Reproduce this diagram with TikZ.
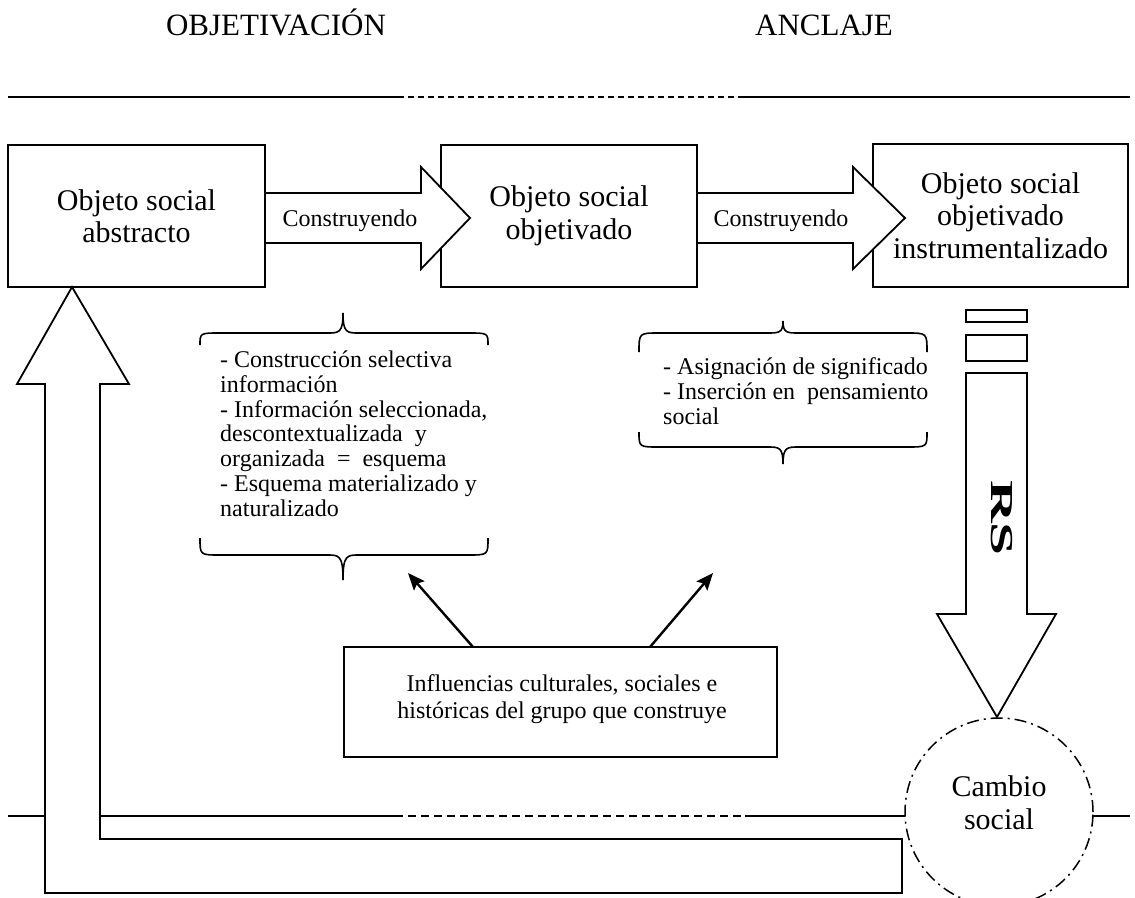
\documentclass[tikz,border=0pt]{standalone}
\usepackage{fontspec}
\setmainfont{Liberation Serif}
\usetikzlibrary{arrows.meta,calc}

\begin{document}
\begin{tikzpicture}[x=1pt,y=-1pt,
  objbox/.style={draw, line width=1.8, fill=white, inner sep=0, align=center,
    font=\fontsize{30}{32.5}\selectfont},
  infbox/.style={draw, line width=1.8, fill=white, inner sep=0, align=center,
    font=\fontsize{24}{27}\selectfont},
  blockarrow/.style={draw, line width=1.8, fill=white, line join=miter},
  arrowlabel/.style={font=\fontsize{24}{24}\selectfont, inner sep=0},
  heading/.style={font=\fontsize{31}{31}\selectfont, inner sep=0, anchor=base},
  rule/.style={line width=1.6},
  bracetext/.style={align=left, inner sep=0, anchor=north west},
  bracepath/.style={line width=1.6},
  infarrow/.style={line width=2.4, -{Stealth[length=17pt, width=14pt, inset=3pt]}},
  changecircle/.style={draw, circle, line width=1.5, inner sep=0, minimum size=188,
    dash pattern=on 12pt off 5pt on 2pt off 5pt},
]
\useasboundingbox (0,0) rectangle (1135,897);

% column headings
\node[heading] (h1) at (276,35) {OBJETIVACIÓN};
\node[heading] (h2) at (824,35) {ANCLAJE};

% upper rule
\draw[rule] (8,97) -- (398,97);
\draw[rule, dash pattern=on 6pt off 4pt] (398,97) -- (743,97);
\draw[rule] (743,97) -- (1130,97);

% lower rule
\draw[rule] (8,816) -- (395,816);
\draw[rule, dash pattern=on 8pt off 5pt] (395,816) -- (745,816);
\draw[rule] (745,816) -- (905,816);
\draw[rule] (1093,816) -- (1130,816);

% the three stages
\node[objbox, minimum width=257, minimum height=142] (b1) at (136.5,216) {Objeto social\\abstracto};
\node[objbox, minimum width=256, minimum height=142] (b2) at (569,216) {Objeto social\\objetivado};
\node[objbox, minimum width=255, minimum height=143] (b3) at (1000.5,215.5) {Objeto social\\objetivado\\instrumentalizado};

% block arrows between stages
\draw[blockarrow] (265,193) -- (421,193) -- (421,167) -- (470,218) -- (421,269) -- (421,243) -- (265,243) -- cycle;
\draw[blockarrow] (697,193) -- (853,193) -- (853,167) -- (905,218) -- (853,269) -- (853,243) -- (697,243) -- cycle;
\node[arrowlabel] (c1) at (350,221) {Construyendo};
\node[arrowlabel] (c2) at (781,221) {Construyendo};

% feedback arrow back to the abstract object
\draw[blockarrow] (72,287) -- (129,384) -- (100,384) -- (100,839) -- (902,839) -- (902,893)
  -- (45,893) -- (45,384) -- (17,384) -- cycle;

% braces: left/right/middle x, end y, flat y, tip y
\foreach \l/\r/\m/\e/\h/\a in {200/488/343/345/333/313, 200/488/343/538/555/580,
                                 639/927/783/352/333/321, 639/927/783/432/447/464}{
  \draw[bracepath] (\l,\e) .. controls (\l,\h) .. (\l+20,\h) -- (\m-16,\h)
    .. controls (\m-4,\h) and (\m,\h) .. (\m,\a)
    .. controls (\m,\h) and (\m+4,\h) .. (\m+16,\h) -- (\r-20,\h)
    .. controls (\r,\h) .. (\r,\e);
}

\node[bracetext, font=\fontsize{24}{24.7}\selectfont] (t1) at (220,351)
  {- Construcción selectiva\\información\\- Información seleccionada,\\descontextualizada\ \ y\\organizada\ \ =\ \ esquema\\- Esquema materializado y\\naturalizado};
\node[bracetext, font=\fontsize{24}{25}\selectfont] (t2) at (663,357)
  {- Asignación de significado\\- Inserción en\ \ pensamiento\\social};

% influences box and its arrows
\node[infbox, minimum width=433, minimum height=110] (inf) at (560.5,702) {};
\node[font=\fontsize{24}{27}\selectfont, align=center, inner sep=0] (inftext) at (562,699.5)
  {Influencias culturales, sociales e\\históricas del grupo que construye};
\coordinate (s1) at (473,647);
\coordinate (s2) at (650,647);
\coordinate (e1) at (408,573);
\coordinate (e2) at (713,573);
\draw[infarrow] (s1) -- (e1);
\draw[infarrow] (s2) -- (e2);

% social representation arrow
\draw[blockarrow] (966,310) rectangle (1027,322);
\draw[blockarrow] (966,335) rectangle (1027,361);
\draw[blockarrow] (966,373) -- (1027,373) -- (1027,614) -- (1056,614) -- (997,717)
  -- (937,614) -- (966,614) -- cycle;
\node[font=\fontsize{32}{32}\selectfont\bfseries, inner sep=0, rotate=-90, xscale=1.85] (rs) at (1002,518) {RS};

% social change
\node[changecircle] (cs) at (999,812) {};
\node[font=\fontsize{30}{33}\selectfont, align=center, inner sep=0] (cstext) at ($(cs.center)+(0,-9)$) {Cambio\\social};
\end{tikzpicture}
\end{document}
